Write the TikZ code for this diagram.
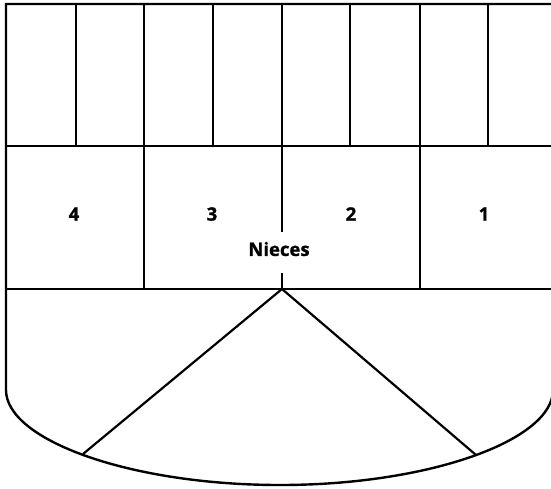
\documentclass[tikz,border=0pt]{standalone}
\usepackage{fontspec}
\setsansfont{Open Sans}[BoldFeatures={FakeBold=1.2}]
\usepackage{tikz}
\usetikzlibrary{positioning,calc}

\begin{document}
\begin{tikzpicture}[
  x=1pt, y=-1pt,
  wall/.style={draw=black, line width=2.4pt, line join=miter},
  part/.style={draw=black, line width=2.2pt},
  lbl/.style={font=\sffamily\bfseries\fontsize{18.5}{21}\selectfont, inner sep=0pt}
]
\useasboundingbox (0,0) rectangle (551,488);

%% ---------- OUTLINE ----------
\draw[wall] (553,289) -- (553,4) -- (6,4) -- (6,390)
  .. controls (6,440) and (130,485) .. (280,485)
  .. controls (430,485) and (553,440) .. (553,390) -- (553,289);

%% ---------- ROWS ----------
\draw[part] (6,146) -- (553,146);
\draw[part] (6,289) -- (553,289);

%% ---------- TOP ROW (8 stalls) ----------
\foreach \x in {76,144,213,282,350,420,488}
  \draw[part] (\x,4) -- (\x,146);

%% ---------- MIDDLE ROW (4 stalls) ----------
\draw[part] (144,146) -- (144,289);
\draw[part] (420,146) -- (420,289);

\node[lbl] (s4) at (74,214)  {4};
\node[lbl] (s3) at (212,214) {3};
\node[lbl] (s2) at (351,214) {2};
\node[lbl] (s1) at (484,214) {1};
\node[lbl] (nieces) at (279,249) {Nieces};

\draw[part] (282,146) -- (282,232);
\draw[part] (282,273) -- (282,289);

%% ---------- BOTTOM (triangle) ----------
\coordinate (apex)  at (282,289);
\coordinate (lfoot) at (83,454);
\coordinate (rfoot) at (476,455);
\draw[part] (lfoot) -- (apex) -- (rfoot);

\end{tikzpicture}
\end{document}
